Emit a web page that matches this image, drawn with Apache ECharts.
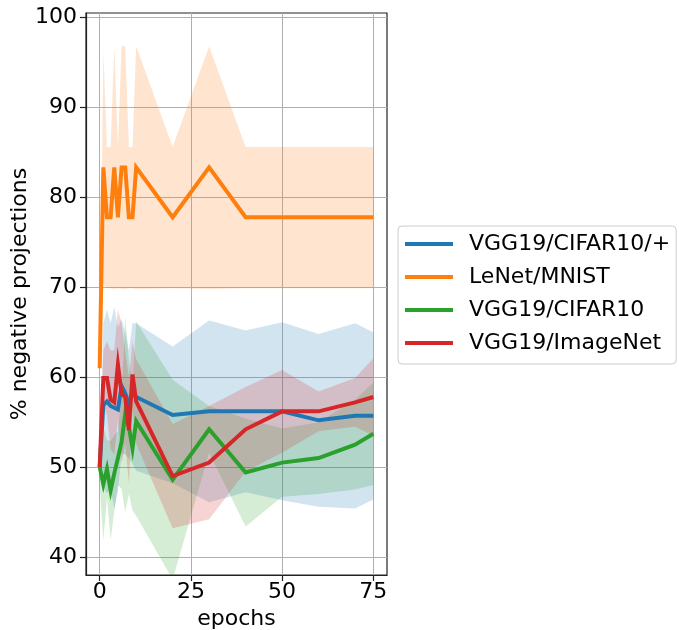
<!DOCTYPE html>
<html>
<head>
<meta charset="utf-8">
<script src="https://cdn.jsdelivr.net/npm/echarts@6/dist/echarts.min.js"></script>
<style>
  html, body { margin: 0; padding: 0; background: #fff; }
  #chart { width: 679px; height: 630px; }
</style>
</head>
<body>
<div id="chart"></div>
<script>
// Training epochs at which the projections were measured
const epochs = [0, 1, 2, 3, 4, 5, 6, 7, 8, 9, 10, 20, 30, 40, 50, 60, 70, 75];

// VGG19/CIFAR10/+
const vggCifarPlusMean  = [50.0, 56.9, 57.3, 56.8, 56.6, 56.4, 59.0, 58.2, 57.0, 58.2, 57.8, 55.8, 56.2, 56.2, 56.2, 55.2, 55.7, 55.7];
const vggCifarPlusUpper = [50.0, 66.0, 67.5, 66.0, 67.8, 65.5, 66.5, 65.0, 63.0, 66.0, 66.0, 63.4, 66.3, 65.2, 66.1, 64.8, 66.0, 65.0];
const vggCifarPlusLower = [50.0, 47.8, 47.1, 47.6, 45.4, 47.3, 51.5, 51.4, 51.0, 50.4, 49.6, 48.2, 46.1, 47.2, 46.3, 45.6, 45.4, 46.4];

// LeNet/MNIST
const lenetMean  = [61.0, 83.33, 77.78, 77.78, 83.33, 77.78, 83.33, 83.33, 77.78, 77.78, 83.33, 77.78, 83.33, 77.78, 77.78, 77.78, 77.78, 77.78];
const lenetUpper = [61.0, 96.3, 85.6, 85.6, 96.8, 85.6, 96.8, 96.8, 85.6, 85.6, 96.8, 85.6, 96.8, 85.6, 85.6, 85.6, 85.6, 85.6];
const lenetLower = [61.0, 70.3, 69.9, 69.9, 69.8, 69.9, 69.8, 69.8, 69.9, 69.9, 69.8, 69.9, 69.8, 69.9, 69.9, 69.9, 69.9, 69.9];

// VGG19/CIFAR10
const vggCifarMean  = [50.0, 48.1, 49.8, 47.4, 49.3, 51.0, 52.8, 55.9, 54.5, 52.1, 55.1, 48.6, 54.2, 49.4, 50.5, 51.0, 52.5, 53.7];
const vggCifarUpper = [52.0, 54.4, 53.0, 52.9, 53.5, 54.0, 58.0, 66.8, 62.0, 59.0, 66.2, 59.7, 56.8, 55.4, 54.3, 55.0, 57.5, 59.4];
const vggCifarLower = [48.0, 41.8, 46.6, 41.9, 45.1, 48.0, 47.6, 45.0, 47.0, 45.2, 44.6, 37.5, 51.6, 43.4, 46.7, 47.0, 47.5, 48.0];

// VGG19/ImageNet
const vggImagenetMean  = [50.0, 59.9, 59.9, 57.5, 57.2, 61.4, 58.2, 57.8, 54.1, 60.3, 57.3, 49.0, 50.5, 54.2, 56.2, 56.2, 57.2, 57.8];
const vggImagenetUpper = [50.0, 63.0, 64.0, 63.0, 63.0, 67.5, 66.0, 63.0, 60.0, 64.0, 62.0, 54.8, 56.8, 58.9, 60.8, 58.4, 59.9, 62.1];
const vggImagenetLower = [50.0, 56.8, 55.8, 52.0, 51.4, 55.3, 50.4, 52.6, 48.2, 56.6, 52.6, 43.2, 44.2, 49.5, 51.6, 54.0, 54.5, 53.5];

const xTicks = [0, 25, 50, 75];
const yTicks = [40, 50, 60, 70, 80, 90, 100];

const seriesNames = ['VGG19/CIFAR10/+', 'LeNet/MNIST', 'VGG19/CIFAR10', 'VGG19/ImageNet'];
const colors = ['#1f77b4', '#ff7f0e', '#2ca02c', '#d62728'];
const bandColors = ['rgba(31,119,180,0.2)', 'rgba(255,127,14,0.2)', 'rgba(44,160,44,0.2)', 'rgba(214,39,40,0.2)'];

const means  = [vggCifarPlusMean, lenetMean, vggCifarMean, vggImagenetMean];
const uppers = [vggCifarPlusUpper, lenetUpper, vggCifarUpper, vggImagenetUpper];
const lowers = [vggCifarPlusLower, lenetLower, vggCifarLower, vggImagenetLower];

const FONT = 'DejaVu Sans';
const FS = 22;

// Shaded spread: one polygon from the upper edge forward and the lower edge back
function bandSeries(k) {
  const up = uppers[k], lo = lowers[k];
  return {
    type: 'custom',
    silent: true,
    clip: true,
    z: 1,
    data: [[epochs[0], means[k][0]]],
    renderItem: function (params, api) {
      const pts = [];
      for (let i = 0; i < epochs.length; i++) pts.push(api.coord([epochs[i], up[i]]));
      for (let i = epochs.length - 1; i >= 0; i--) pts.push(api.coord([epochs[i], lo[i]]));
      return {
        type: 'polygon',
        shape: { points: pts },
        style: { fill: bandColors[k], stroke: null }
      };
    }
  };
}

function lineSeries(k) {
  return {
    name: seriesNames[k],
    type: 'line',
    z: 3 + k,
    data: epochs.map((e, i) => [e, means[k][i]]),
    showSymbol: false,
    symbol: 'none',
    clip: true,
    lineStyle: { color: colors[k], width: 4, join: 'miter' },
    itemStyle: { color: colors[k] },
    emphasis: { disabled: true }
  };
}

const chart = echarts.init(document.getElementById('chart'), null, { renderer: 'canvas' });

chart.setOption({
  animation: false,
  backgroundColor: '#fff',
  grid: {
    left: 86, right: 292, top: 13, bottom: 55,
    outerBoundsMode: 'none',
    containLabel: false,
    show: true, borderColor: '#222', borderWidth: 1.2, backgroundColor: 'transparent'
  },
  legend: {
    orient: 'vertical',
    left: 398, top: 226,
    data: seriesNames,
    icon: 'rect',
    itemWidth: 48, itemHeight: 4,
    itemGap: 11,
    padding: [7, 6, 10, 7],
    borderColor: '#cccccc', borderWidth: 1, borderRadius: 4,
    backgroundColor: '#fff',
    selectedMode: false,
    textStyle: { fontFamily: FONT, fontSize: FS, color: '#000', lineHeight: 22, padding: [0, 0, 0, 11] }
  },
  xAxis: {
    type: 'value',
    min: -3.75, max: 78.75,
    name: 'epochs',
    nameLocation: 'middle',
    nameGap: 31,
    nameTextStyle: { fontFamily: FONT, fontSize: FS, color: '#000' },
    axisLine: { show: true, onZero: false, lineStyle: { color: '#222', width: 1.2 } },
    axisTick: { show: true, length: 6, customValues: xTicks, lineStyle: { color: '#222', width: 1.2 } },
    axisLabel: { customValues: xTicks, fontFamily: FONT, fontSize: FS, color: '#000', margin: 6 },
    splitLine: { show: true, lineStyle: { color: '#b0b0b0', width: 1 } }
  },
  yAxis: {
    type: 'value',
    min: 38, max: 100.5,
    name: '% negative projections',
    nameLocation: 'middle',
    nameGap: 47,
    nameTextStyle: { fontFamily: FONT, fontSize: FS, color: '#000' },
    axisLine: { show: true, onZero: false, lineStyle: { color: '#222', width: 1.2 } },
    axisTick: { show: true, length: 6, customValues: yTicks, lineStyle: { color: '#222', width: 1.2 } },
    axisLabel: { customValues: yTicks, fontFamily: FONT, fontSize: FS, color: '#000', margin: 9 },
    splitLine: { show: true, lineStyle: { color: '#b0b0b0', width: 1 } }
  },
  series: [0, 1, 2, 3].map(bandSeries).concat([0, 1, 2, 3].map(lineSeries))
});
</script>
</body>
</html>
